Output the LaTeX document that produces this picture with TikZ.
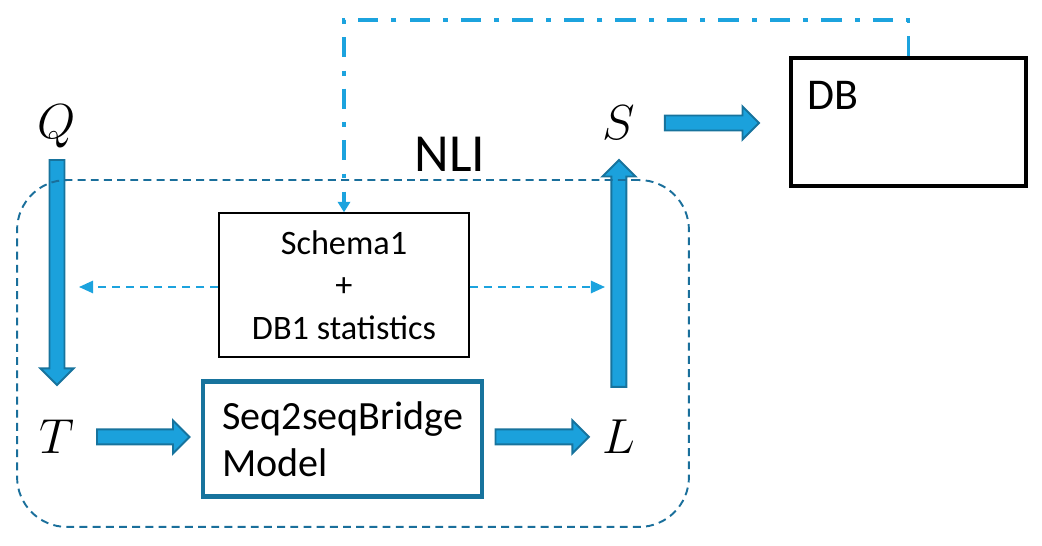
\RequirePackage{fix-cm}
\documentclass[tikz,border=0pt]{standalone}
\usepackage{fontspec}
\setmainfont{Carlito}
\usetikzlibrary{calc, positioning, arrows.meta}

\definecolor{arrowfill}{HTML}{1BA1DC}
\definecolor{arrowedge}{HTML}{17739D}
\definecolor{linkblue}{HTML}{1CA3DE}
\definecolor{nliteal}{HTML}{1A6F9B}

\tikzset{
  var/.style={inner sep=0pt, font=\fontsize{28}{30}\selectfont},
  bigarrow/.style={fill=arrowfill, draw=arrowedge, line width=1.1pt, line join=miter,
    to path={let \p1=(\tikztostart), \p2=(\tikztotarget) in
      ($(\p1)!0.15cm!90:(\p2)$) -- ($(\p2)!0.33cm!(\p1)!0.15cm!90:(\p2)$)
      -- ($(\p2)!0.33cm!(\p1)!0.33cm!90:(\p2)$) -- (\p2)
      -- ($(\p2)!0.33cm!(\p1)!0.33cm!-90:(\p2)$) -- ($(\p2)!0.33cm!(\p1)!0.15cm!-90:(\p2)$)
      -- ($(\p1)!0.15cm!-90:(\p2)$) -- cycle}},
  schemalink/.style={draw=linkblue, line width=1.1pt, dash pattern=on 4.5pt off 3.5pt,
    -{Triangle[length=8pt, width=7pt]}},
  dblink/.style={draw=linkblue, line width=2.2pt, dash pattern=on 11.5pt off 7.5pt on 2.8pt off 7.5pt,
    -{Triangle[length=6pt, width=7pt]}},
  nlibox/.style={draw=nliteal, line width=1.1pt, dash pattern=on 4.5pt off 3pt, rounded corners=1cm,
    minimum width=13.44cm, minimum height=6.94cm},
  schemabox/.style={draw, line width=0.8pt, fill=white, minimum width=5cm, minimum height=2.88cm,
    align=center, font=\fontsize{19.5}{24.2}\selectfont},
  modelbox/.style={draw=arrowedge, line width=2.3pt, minimum width=5.6cm, minimum height=2.3cm,
    text width=4.8cm, inner xsep=0.4cm, align=left, font=\fontsize{22.8}{27}\selectfont},
  dbbox/.style={draw, line width=2.3pt, minimum width=4.7cm, minimum height=2.56cm}
}

\begin{document}
\begin{tikzpicture}[x=0.02cm, y=-0.02cm, node distance=6cm, on grid]
  \useasboundingbox (0,0) rectangle (1042,546);

  % letters
  \node[var] (Q) at (57,126) {$Q$};
  \node[var, below=6.22cm of Q] (T) {$T$};
  \node[var, right=11.24cm of T] (L) {$L$};
  \node[var, above=6.28cm of L] (S) {$S$};

  % boxes
  \node[schemabox] (schema) at (344,285) {Schema1\\+\\DB1 statistics};
  \node[modelbox] (seq) at (342.5,439) {Seq2seqBridge\\Model};
  \node[dbbox, label={[anchor=north west, inner sep=0pt, xshift=0.36cm, yshift=-0.5cm,
    font=\fontsize{25}{30}\selectfont]north west:DB}] (DB) at (908.5,122) {};

  % block arrows
  \draw[bigarrow] ($(Q)+(0,34)$) to ($(T)+(0,-52)$);
  \draw[bigarrow] ($(T)+(40,0)$) to ($(T -| seq.west)+(-11,0)$);
  \draw[bigarrow] ($(L -| seq.east)+(11,0)$) to ($(L)+(-30,0)$);
  \draw[bigarrow] ($(L)+(0,-50)$) to ($(S)+(0,37)$);
  \draw[bigarrow] ($(S)+(46,0)$) to ($(S -| DB.west)+(-30,0)$);

  % schema links
  \coordinate (lefttip) at (79,287);
  \coordinate (righttip) at (605,287);
  \draw[schemalink] (schema.west |- lefttip) -- (lefttip);
  \draw[schemalink] (schema.east |- righttip) -- (righttip);
  \draw[dblink] (DB.north) -- ++(0,-36) -| (schema.north);

  % NLI region
  \node[nlibox] (nli) at (353,353.5) {};
  \node[font=\fontsize{30.5}{34}\selectfont] (nlilabel) at (450,154) {NLI};
\end{tikzpicture}
\end{document}
